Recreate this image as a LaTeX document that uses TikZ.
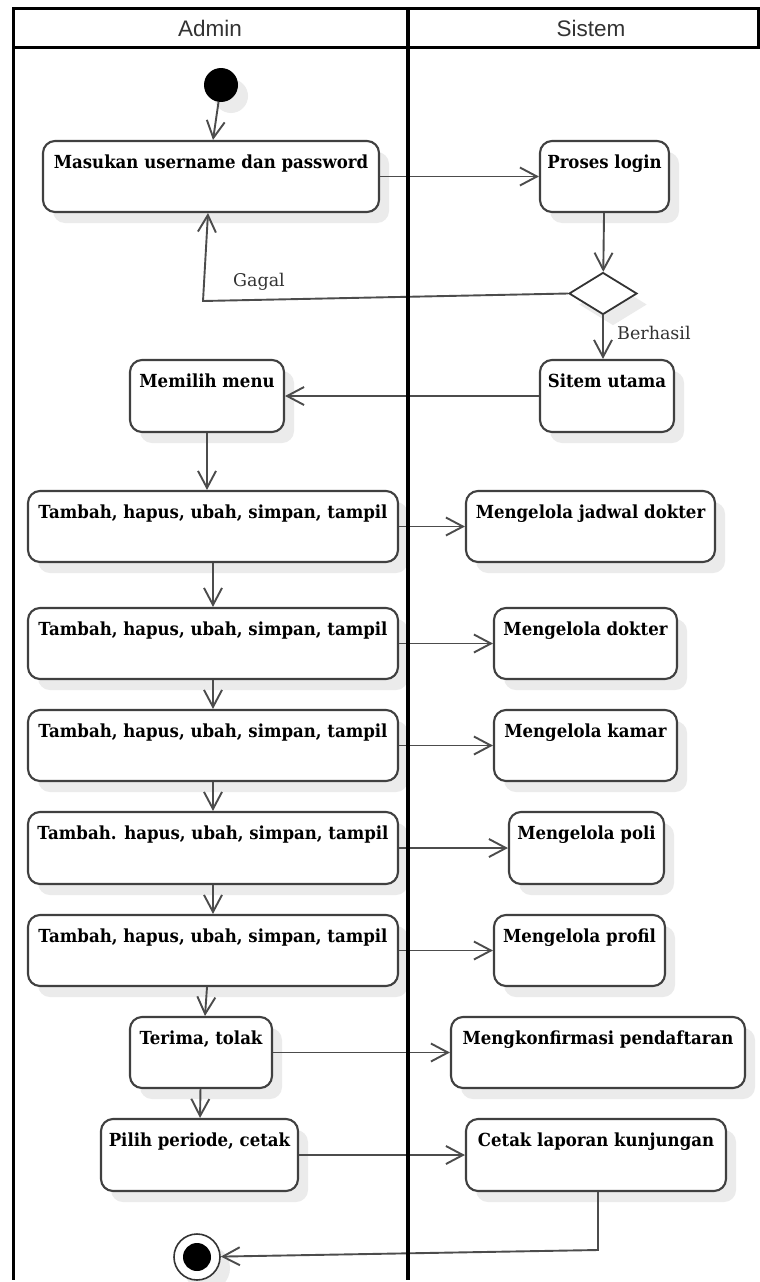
\documentclass[tikz,border=0pt]{standalone}
\usepackage{fontspec}
\setmainfont{DejaVu Serif}
\newfontfamily\actfont{DejaVu Serif}[FakeStretch=0.92]
\newfontfamily\lanefont{Liberation Sans}
\usetikzlibrary{arrows.meta,shapes.geometric,shadows,calc}

\tikzset{
  lane/.style={line width=3.2pt, draw=black},
  softshadow/.style={drop shadow={shadow xshift=10pt, shadow yshift=-11pt, fill=black!8, opacity=1}},
  act/.style={draw=black!75, line width=2.1pt, rounded corners=12pt, fill=white,
    inner sep=0pt, softshadow},
  acttext/.style={anchor=base, inner sep=0pt,
    font=\actfont\bfseries\fontsize{18}{22}\selectfont},
  decision/.style={diamond, draw=black!80, line width=1.8pt, fill=white, inner sep=0pt,
    minimum width=68pt, minimum height=42pt, softshadow},
  initial/.style={circle, fill=black, inner sep=0pt, minimum size=34pt, softshadow},
  finalring/.style={circle, draw=black!80, line width=1.6pt, fill=white, inner sep=0pt,
    minimum size=46pt, softshadow},
  finaldot/.style={circle, fill=black, inner sep=0pt, minimum size=28pt},
  flow/.style={draw=black!70, line width=1.9pt,
    -{Straight Barb[length=17pt,width=18pt]}},
  guard/.style={font=\fontsize{17.5}{21}\selectfont, text=black!80, inner sep=0pt,
    anchor=base west},
  lanetitle/.style={font=\lanefont\fontsize{22.5}{27}\selectfont, text=black!80,
    anchor=base, inner sep=0pt},
}

% activity box: name, centre x, centre y, width, height, text
\newcommand\actnode[6]{%
  \node[act, minimum width=#4pt, minimum height=#5pt] (#1) at (#2,#3) {};
  \node[acttext] (#1-t) at ([yshift=-29pt]#1.north) {#6};
}

\begin{document}
\begin{tikzpicture}[x=1pt, y=-1pt]
  \useasboundingbox (0,0) rectangle (760,1282);
  \fill[white] (0,0) rectangle (760,1282);

  % lane titles
  \node[lanetitle] (adminT) at (210,36) {Admin};
  \node[lanetitle] (sistemT) at (591,36) {Sistem};

  % start
  \node[initial] (start) at (221,85) {};

  % activities
  \actnode{masuk}{211}{176.5}{336}{71}{Masukan username dan password}
  \actnode{proses}{604.5}{176.5}{129}{71}{Proses login}
  \node[decision] (dia) at (603,293.5) {};
  \actnode{sitem}{607}{396}{134}{72}{Sitem utama}
  \actnode{memilih}{207}{396}{154}{72}{Memilih menu}

  \actnode{t1}{213}{526.5}{370}{71}{Tambah, hapus, ubah, simpan, tampil}
  \actnode{jadwal}{590.5}{526.5}{249}{71}{Mengelola jadwal dokter}
  \actnode{t2}{213}{643.5}{370}{71}{Tambah, hapus, ubah, simpan, tampil}
  \actnode{dokter}{585.5}{643.5}{183}{71}{Mengelola dokter}
  \actnode{t3}{213}{745.5}{370}{71}{Tambah, hapus, ubah, simpan, tampil}
  \actnode{kamar}{585.5}{745.5}{183}{71}{Mengelola kamar}
  \actnode{t4}{213}{848}{370}{72}{Tambah. hapus, ubah, simpan, tampil}
  \actnode{poli}{586.5}{848}{155}{72}{Mengelola poli}
  \actnode{t5}{213}{950.5}{370}{71}{Tambah, hapus, ubah, simpan, tampil}
  \actnode{profil}{579.5}{950.5}{171}{71}{Mengelola profil}
  \actnode{terima}{201}{1052.5}{142}{71}{Terima, tolak}
  \actnode{konfirm}{598}{1052.5}{294}{71}{Mengkonfirmasi pendaftaran}
  \actnode{pilih}{199.5}{1155}{197}{72}{Pilih periode, cetak}
  \actnode{cetak}{596}{1155}{260}{72}{Cetak laporan kunjungan}

  % end
  \node[finalring] (endo) at (197,1257) {};
  \node[finaldot] (endi) at (endo) {};

  % guards
  \node[guard] (gagal) at (233,286) {Gagal};
  \node[guard] (berhasil) at (617,339) {Berhasil};

  % bends
  \coordinate (gbend) at (203,301);
  \coordinate (cbend) at (598,1250);

  % flows
  \draw[flow] (start) -- ([xshift=-8pt]start.south |- masuk.north);
  \draw[flow] (masuk) -- (proses);
  \draw[flow] (proses) -- (dia);
  \draw[flow] (dia.south) -- (dia.south |- sitem.north);
  \draw[flow] (dia.west) -- (gbend) -- ([xshift=-3pt]masuk.south);
  \draw[flow] (sitem) -- (memilih);
  \draw[flow] (memilih.south) -- (memilih.south |- t1.north);
  \draw[flow] (t1) -- (jadwal);
  \draw[flow] (t1) -- (t2);
  \draw[flow] (t2) -- (dokter);
  \draw[flow] (t2) -- (t3);
  \draw[flow] (t3) -- (kamar);
  \draw[flow] (t3) -- (t4);
  \draw[flow] (t4) -- (poli);
  \draw[flow] (t4) -- (t5);
  \draw[flow] (t5) -- (profil);
  \draw[flow] ([xshift=-6pt]t5.south) -- ([xshift=4pt]terima.north);
  \draw[flow] (terima) -- (konfirm);
  \draw[flow] (terima) -- (pilih);
  \draw[flow] (pilih) -- (cetak);
  \draw[flow] ([xshift=2pt]cetak.south) -- (cbend) -- (endo);

  % swimlanes
  \draw[lane] (13.5,8.5) rectangle (758.5,47.5);
  \draw[lane] (13.5,47.5) -- (13.5,1280);
  \draw[lane] (408,8.5) -- (408,1280);
\end{tikzpicture}
\end{document}
